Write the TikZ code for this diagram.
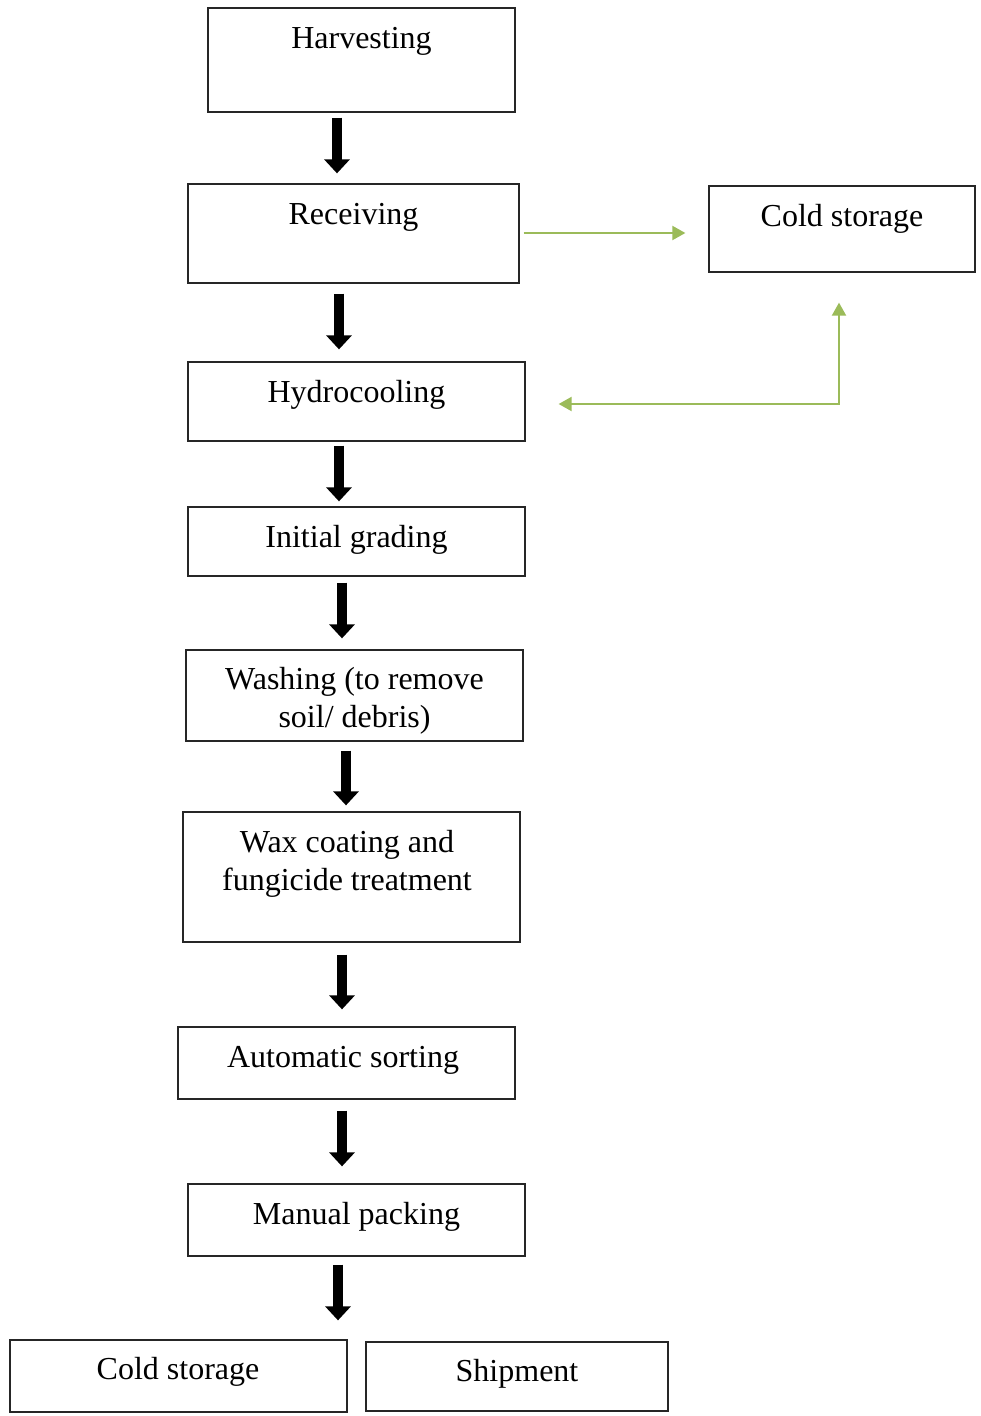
\documentclass[tikz,border=0pt]{standalone}
\usepackage{fontspec}
\setmainfont{Liberation Serif}
\usetikzlibrary{arrows.meta}
\definecolor{arrgreen}{HTML}{9BBB59}
\tikzset{
  box/.style={draw=black!85, line width=1.3pt, inner sep=0pt},
  txt/.style={inner sep=0pt, anchor=base, align=center, font=\fontsize{32}{38}\selectfont},
  bigarrow/.style={line width=10pt, -{Triangle[width=25pt,length=14pt]}},
  greenarrow/.style={draw=arrgreen, line width=2pt},
}
\begin{document}
\begin{tikzpicture}[x=1pt,y=-1pt]
\useasboundingbox[fill=white] (0,0) rectangle (980,1416);
% boxes
\node[box, minimum width=307, minimum height=104] (harv) at (361.5,60) {};
\node[box, minimum width=331, minimum height=99] (recv) at (353.5,233.5) {};
\node[box, minimum width=266, minimum height=86] (cold1) at (842,229) {};
\node[box, minimum width=337, minimum height=79] (hydro) at (356.5,401.5) {};
\node[box, minimum width=337, minimum height=69] (grad) at (356.5,541.5) {};
\node[box, minimum width=337, minimum height=91] (wash) at (354.5,695.5) {};
\node[box, minimum width=337, minimum height=130] (wax) at (351.5,877) {};
\node[box, minimum width=337, minimum height=72] (auto) at (346.5,1063) {};
\node[box, minimum width=337, minimum height=72] (pack) at (356.5,1220) {};
\node[box, minimum width=337, minimum height=72] (cold2) at (178.5,1376) {};
\node[box, minimum width=302, minimum height=69] (ship) at (517,1376.5) {};
% texts
\node[txt] (tharv) at (361.5,48) {Harvesting};
\node[txt] (trecv) at (353.5,224) {Receiving};
\node[txt] (tcold1) at (842,226) {Cold storage};
\node[txt] (thydro) at (356.5,402) {Hydrocooling};
\node[txt] (tgrad) at (356.5,547) {Initial grading};
\node[txt] (twash) at (354.5,727) {Washing (to remove\\soil/ debris)};
\node[txt] (twax) at (347,890) {Wax coating and\\fungicide treatment};
\node[txt] (tauto) at (343,1067) {Automatic sorting};
\node[txt] (tpack) at (356.5,1224) {Manual packing};
\node[txt] (tcold2) at (178,1379) {Cold storage};
\node[txt] (tship) at (517,1381) {Shipment};
% black arrows
\coordinate (s1) at ([xshift=-24.5]harv.south);
\coordinate (s2) at ([xshift=-14.5]recv.south);
\coordinate (s3) at ([xshift=-17.5]hydro.south);
\coordinate (s4) at ([xshift=-14.5]grad.south);
\coordinate (s5) at ([xshift=-8.5]wash.south);
\coordinate (s6) at ([xshift=-9.5]wax.south);
\coordinate (s7) at ([xshift=-4.5]auto.south);
\coordinate (s8) at ([xshift=-18.5]pack.south);
\draw[bigarrow, shorten <=5pt, shorten >=10pt] (s1) -- (s1 |- recv.north);
\draw[bigarrow, shorten <=10pt, shorten >=12pt] (s2) -- (s2 |- hydro.north);
\draw[bigarrow, shorten <=4pt, shorten >=5pt] (s3) -- (s3 |- grad.north);
\draw[bigarrow, shorten <=6pt, shorten >=11pt] (s4) -- (s4 |- wash.north);
\draw[bigarrow, shorten <=9pt, shorten >=6pt] (s5) -- (s5 |- wax.north);
\draw[bigarrow, shorten <=12pt, shorten >=17pt] (s6) -- (s6 |- auto.north);
\draw[bigarrow, shorten <=11pt, shorten >=17pt] (s7) -- (s7 |- pack.north);
\draw[bigarrow, shorten <=8pt, shorten >=19pt] (s8) -- (s8 |- cold2.north);
% green arrows
\coordinate (g1) at ([yshift=0.5]recv.east);
\draw[greenarrow, -{Triangle[width=14pt,length=13pt]}, shorten <=4pt, shorten >=23pt] (g1) -- (g1 -| cold1.west);
\draw[greenarrow, {Triangle[width=14pt,length=13pt]}-{Triangle[width=14pt,length=13pt]}]
  ([xshift=33,yshift=-2.5]hydro.east) -| ([xshift=-3,yshift=-30]cold1.south);
\end{tikzpicture}
\end{document}
